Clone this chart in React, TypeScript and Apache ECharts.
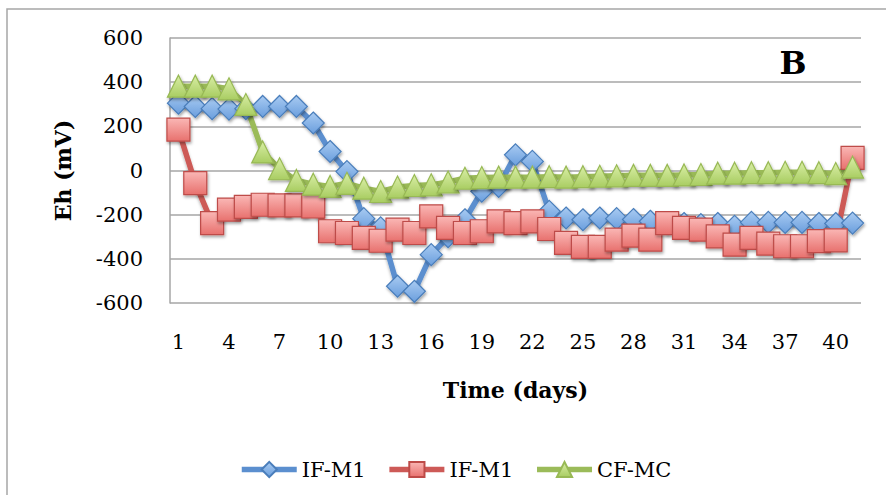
import { useEffect, useRef } from "react";
import * as echarts from "echarts";

// Time axis (days)
const days = [
  "1", "2", "3", "4", "5", "6", "7", "8", "9", "10",
  "11", "12", "13", "14", "15", "16", "17", "18", "19", "20",
  "21", "22", "23", "24", "25", "26", "27", "28", "29", "30",
  "31", "32", "33", "34", "35", "36", "37", "38", "39", "40", "41",
];

// Eh (mV) readings
const ifM1Blue = [
  305, 290, 280, 278, 280, 290, 290, 290, 215, 86,
  -5, -218, -260, -524, -547, -381, -300, -223, -94, -72,
  71, 41, -185, -215, -223, -215, -218, -222, -230, -240,
  -240, -245, -240, -253, -235, -235, -235, -235, -240, -240, -238,
];
const ifM1Red = [
  185, -57, -238, -177, -165, -155, -158, -158, -163, -275,
  -283, -305, -318, -268, -283, -208, -260, -283, -275, -230,
  -238, -230, -265, -328, -346, -346, -313, -295, -313, -238,
  -260, -268, -298, -336, -305, -331, -343, -343, -320, -316, 57,
];
const cfMc = [
  382, 382, 382, 370, 299, 84, 8, -45, -62, -72,
  -58, -80, -95, -75, -68, -65, -52, -35, -32, -30,
  -30, -30, -28, -30, -28, -26, -24, -22, -22, -22,
  -20, -18, -12, -12, -10, -10, -8, -8, -10, -14, 15,
];

// Value axis range
const yMin = -600;
const yMax = 600;
const yStep = 200;

const seriesLabels: Record<string, string> = {
  "IF-M1 a": "IF-M1",
  "IF-M1 b": "IF-M1",
  "CF-MC": "CF-MC",
};

const FONT = "'DejaVu Serif', serif";
const LINE_W = 5.5;

function grad(top: string, bottom: string) {
  return new echarts.graphic.LinearGradient(0, 0, 0, 1, [
    { offset: 0, color: top },
    { offset: 1, color: bottom },
  ]);
}

function lineSeries(
  name: string,
  data: number[],
  line: string,
  fillTop: string,
  fillBottom: string,
  border: string,
  symbol: string,
  size: number
) {
  return {
    name,
    type: "line",
    data,
    symbol,
    symbolSize: size,
    showAllSymbol: true,
    lineStyle: {
      color: line,
      width: LINE_W,
      shadowBlur: 3,
      shadowColor: "rgba(0,0,0,0.3)",
      shadowOffsetY: 2,
    },
    itemStyle: {
      color: grad(fillTop, fillBottom),
      borderColor: border,
      borderWidth: 1.2,
      shadowBlur: 3,
      shadowColor: "rgba(0,0,0,0.35)",
      shadowOffsetX: 1,
      shadowOffsetY: 2,
    },
    emphasis: { disabled: true },
  };
}

export default function App() {
  const ref = useRef<HTMLDivElement>(null);

  useEffect(() => {
    if (!ref.current) return;
    const chart = echarts.init(ref.current, undefined, { renderer: "svg" });
    chart.setOption({
      animation: false,
      backgroundColor: "#ffffff",
      grid: { left: 170, right: 25, top: 38, bottom: 192, containLabel: false },
      graphic: [
        {
          type: "rect",
          shape: { x: 7, y: 9, width: 900, height: 500 },
          style: { fill: "none", stroke: "#A6A6A6", lineWidth: 1.5 },
          silent: true,
        },
        {
          type: "text",
          x: 793,
          y: 63,
          style: {
            text: "B",
            font: `bold 32px ${FONT}`,
            fill: "#000",
            align: "center",
            verticalAlign: "middle",
          },
        },
      ],
      legend: {
        left: 234,
        top: 454,
        itemWidth: 55,
        itemHeight: 19,
        itemGap: 21,
        lineStyle: { width: LINE_W },
        textStyle: { fontFamily: FONT, fontSize: 21, color: "#000" },
        formatter: (name: string) => seriesLabels[name] ?? name,
        data: ["IF-M1 a", "IF-M1 b", "CF-MC"],
      },
      xAxis: {
        type: "category",
        data: days,
        boundaryGap: true,
        name: "Time (days)",
        nameLocation: "middle",
        nameGap: 76,
        nameTextStyle: { fontFamily: FONT, fontSize: 22, fontWeight: "bold", color: "#000" },
        axisLine: { show: false },
        axisTick: { show: false },
        axisLabel: {
          interval: 2,
          margin: 28,
          fontFamily: FONT,
          fontSize: 21,
          color: "#000",
        },
        splitLine: { show: false },
      },
      yAxis: {
        type: "value",
        min: yMin,
        max: yMax,
        interval: yStep,
        name: "Eh (mV)",
        nameLocation: "middle",
        nameGap: 96,
        nameTextStyle: { fontFamily: FONT, fontSize: 22, fontWeight: "bold", color: "#000" },
        axisLine: { show: true, lineStyle: { color: "#A6A6A6", width: 1.5 } },
        axisTick: { show: false },
        axisLabel: { margin: 27, fontFamily: FONT, fontSize: 21, color: "#000" },
        splitLine: { show: true, lineStyle: { color: "#A6A6A6", width: 1.5 } },
      },
      series: [
        lineSeries("IF-M1 a", ifM1Blue, "#5B8FCF", "#A9CBF2", "#6A9EDD", "#4A7EBB", "diamond", 22),
        lineSeries("IF-M1 b", ifM1Red, "#CD5A57", "#FAB7B5", "#E8716E", "#BE4B48", "rect", 23),
        lineSeries("CF-MC", cfMc, "#9BBB59", "#D9EEA6", "#A9CD62", "#98B954", "triangle", 22),
      ],
    });
    return () => chart.dispose();
  }, []);

  return (
    <div
      ref={ref}
      style={{ position: "fixed", left: 0, top: 0, width: 886, height: 495, background: "#fff" }}
    />
  );
}
